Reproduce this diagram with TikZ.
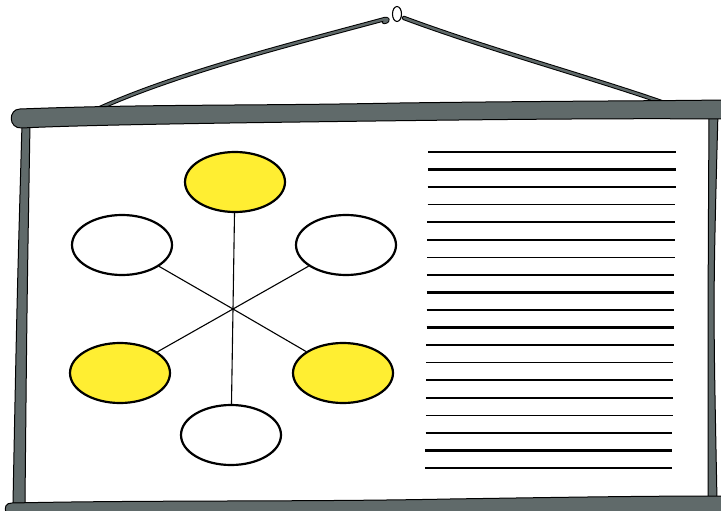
\documentclass[tikz,border=0pt]{standalone}
\usetikzlibrary{shapes.geometric}
\definecolor{barGray}{RGB}{96,106,106}
\definecolor{hiYellow}{RGB}{255,238,50}
\tikzset{
  bar/.style={fill=barGray, draw=black, line width=1pt, line join=round},
  cord/.style={draw=black, line width=4.4pt, line cap=round, line join=round},
  cordin/.style={draw=barGray, line width=2.4pt, line cap=round, line join=round},
  bubble/.style={ellipse, draw=black, line width=2.2pt, fill=white,
    minimum width=100pt, minimum height=60pt, inner sep=0pt},
  hl/.style={bubble, fill=hiYellow},
  spoke/.style={line width=1.1pt}
}
\begin{document}
\begin{tikzpicture}[x=1pt,y=-1pt]
\useasboundingbox (0,0) rectangle (721,511);
\fill[white] (0,0) rectangle (721,511);

% cord and hook
\foreach \st in {cord,cordin}
{
  \draw[\st] (100,108) .. controls (180,72) and (300,42) .. (385,19)
    .. controls (389,18) and (388,22) .. (384,22);
  \draw[\st] (404,18) .. controls (490,50) and (600,80) .. (667,104);
}
\draw[line width=1.1pt, fill=white] (397,14) ellipse [x radius=4.5, y radius=7.5];

% frame
\draw[bar] (22,124) -- (30,124) .. controls (27,300) .. (25,503) -- (13,503)
  .. controls (17,300) .. (22,124) -- cycle;
\draw[bar] (709,112) -- (718,112) .. controls (713,300) .. (717,500) -- (708,500)
  .. controls (708,300) .. (709,112) -- cycle;
\draw[bar] (20,109) .. controls (150,104) and (250,106) .. (400,103)
  .. controls (550,101) and (650,101) .. (722,100) -- (722,119)
  .. controls (600,118) and (450,120) .. (300,122)
  .. controls (150,124) and (60,126) .. (22,128)
  .. controls (8,129) and (8,109) .. (20,109) -- cycle;
\draw[bar] (12,503) .. controls (150,500) and (300,502) .. (450,499)
  .. controls (580,497) and (650,496) .. (722,496) -- (722,513) -- (6,513)
  .. controls (4,507) and (6,503) .. (12,503) -- cycle;

% diagram
\coordinate (hub) at (233,309);
\node[hl] (top) at (235,182) {};
\node[bubble] (upleft) at (122,245) {};
\node[bubble] (upright) at (346,245) {};
\node[hl] (lowleft) at (120,373) {};
\node[hl] (lowright) at (343,373) {};
\node[bubble] (bottom) at (231,435) {};
\foreach \n in {top,upleft,upright,lowleft,lowright,bottom}
{
  \draw[spoke] (hub) -- (\n);
}

% text lines
\foreach \i in {0,...,18}
{
  \pgfmathsetmacro\lw{mod(\i,3)==0 ? 1.2 : 2.4}
  \draw[line width=\lw pt] ({428-0.15*\i},{152+17.55*\i}) -- ({676-0.22*\i},{152+17.55*\i});
}
\end{tikzpicture}
\end{document}
